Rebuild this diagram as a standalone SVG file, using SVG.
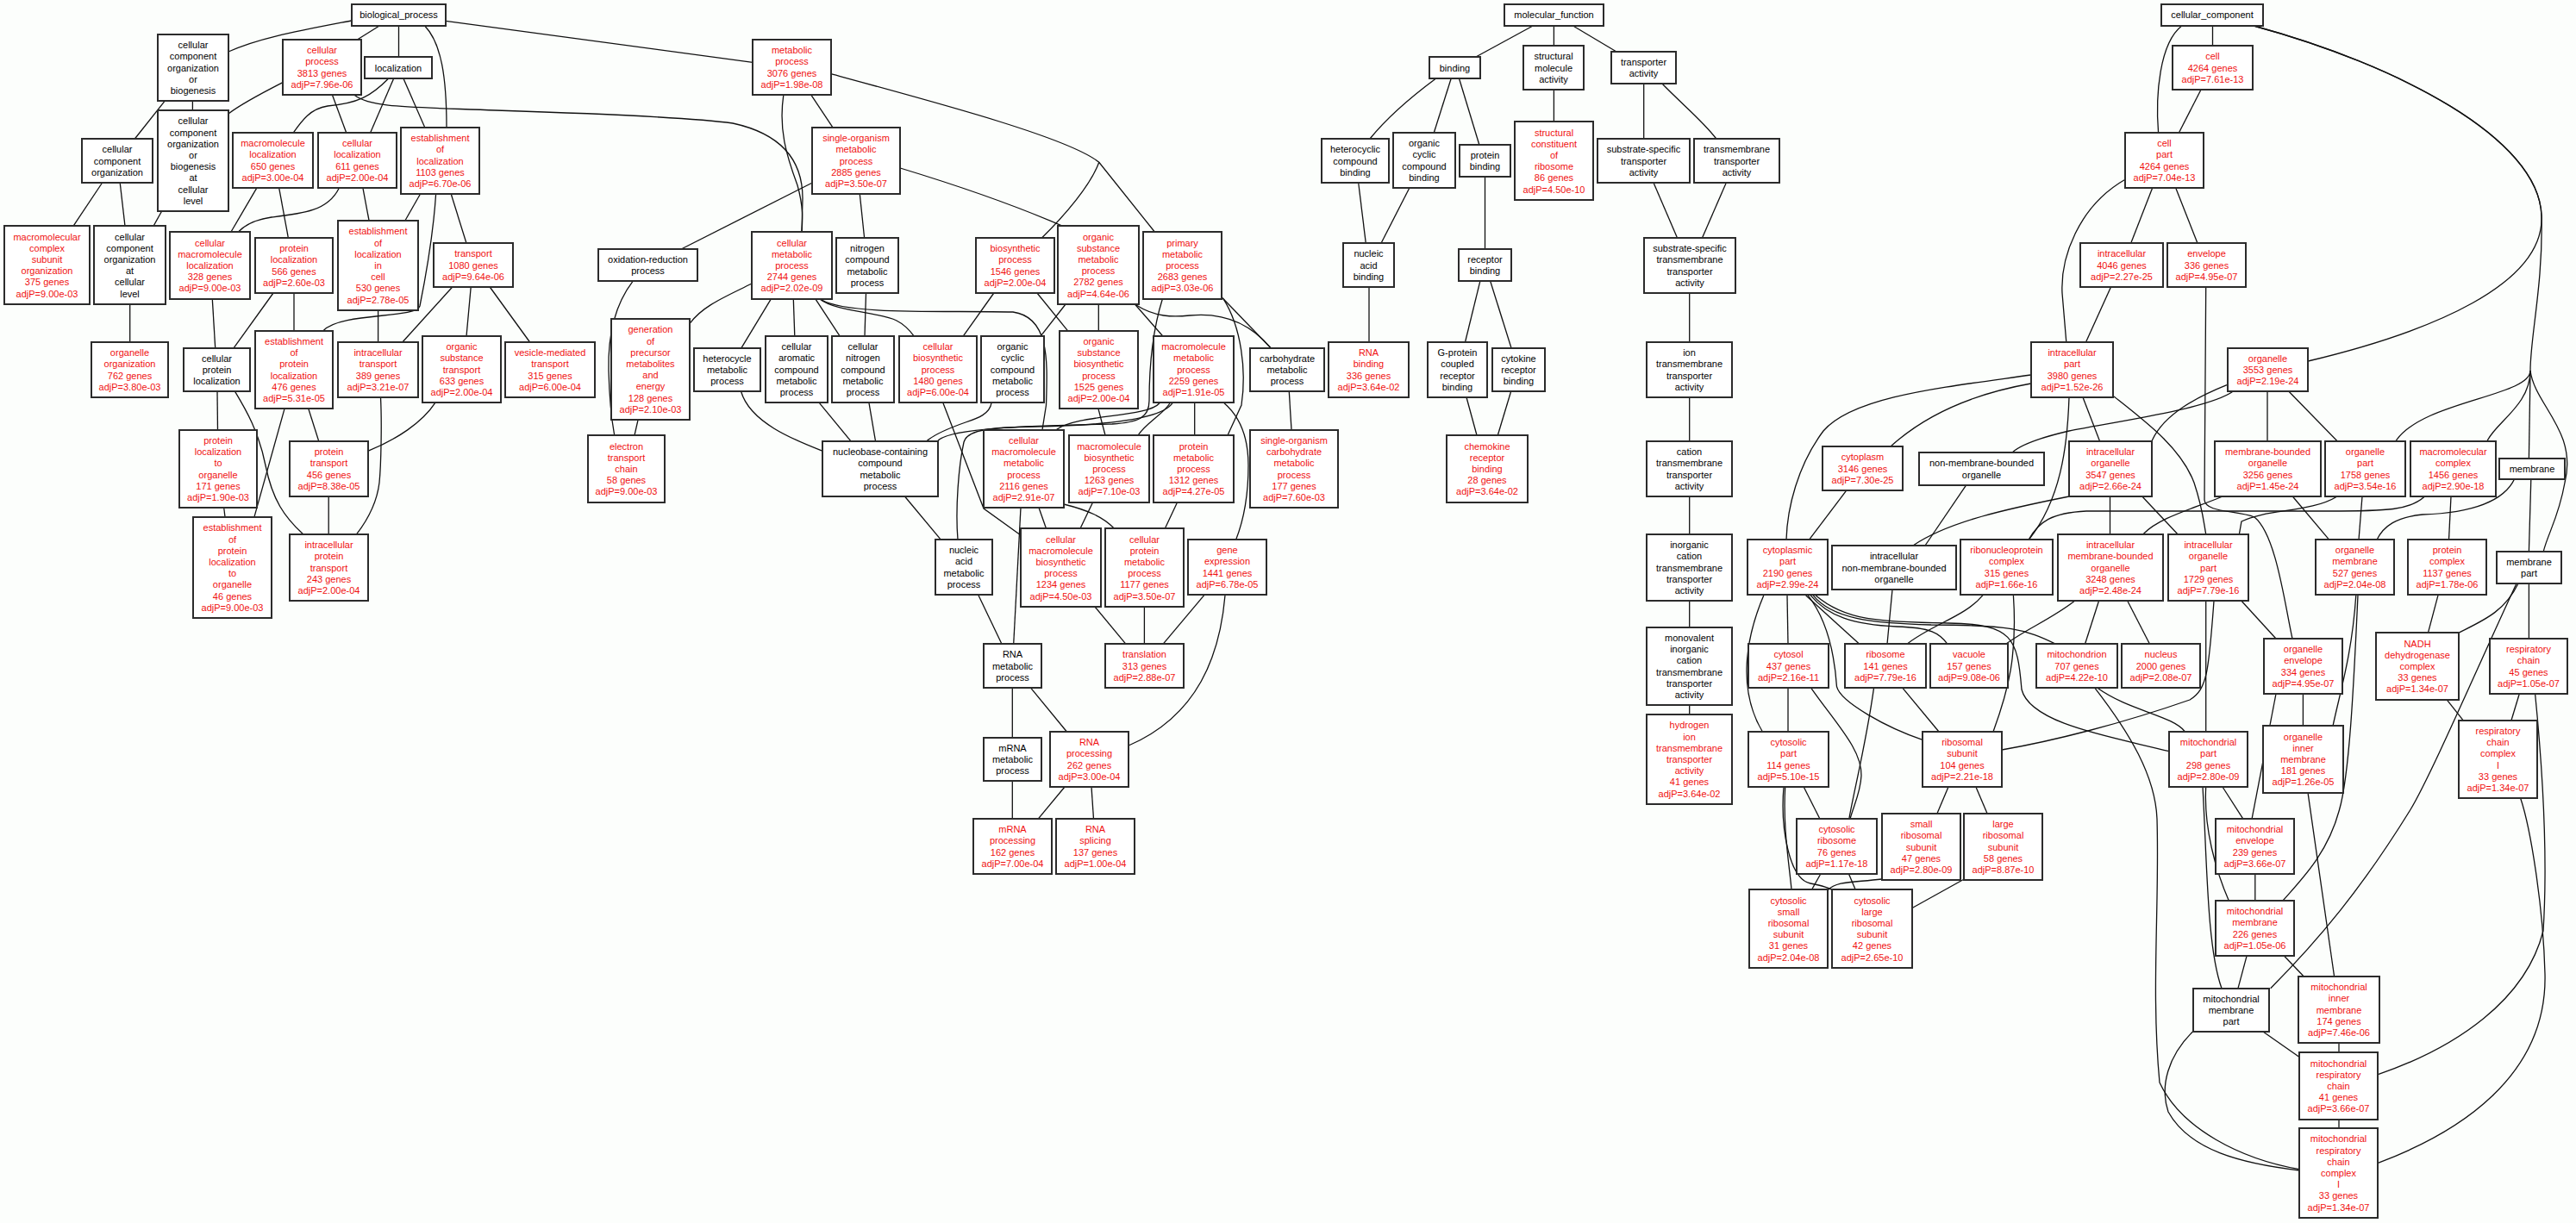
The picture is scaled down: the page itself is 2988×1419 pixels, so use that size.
<svg xmlns="http://www.w3.org/2000/svg" width="2988" height="1419" viewBox="0 0 2988 1419">
<style>
.bg{fill:#fcfefc}
.e path{fill:none;stroke:#111;stroke-width:1.3}
.n rect{fill:#fff;stroke:#2b2b2b;stroke-width:2}
.n text{font-family:"Liberation Sans",Arial,sans-serif;font-size:11px;text-anchor:middle}
.k text{fill:#000}
.r text{fill:#f01010}
</style>
<rect class="bg" x="0" y="0" width="2988" height="1419"/>
<g id="edges" class="e">
<path d="M407.5,24 C345,36 300,44 265,60"/>
<path d="M440,30 L414,46.3"/>
<path d="M462.5,29.3 L462.5,66.3"/>
<path d="M492.7,30 C512,50 518,90 518,147.7"/>
<path d="M517,24.3 L873,72.3"/>
<path d="M191,117.3 L156.4,161"/>
<path d="M223.4,117.3 L223.4,127.7"/>
<path d="M328,95.7 C300,110 278,122 265,132"/>
<path d="M385.5,110.3 L401.8,154.3"/>
<path d="M411,110.3 C430,125 470,124 575,128 C700,132 800,136 850,143 C905,155 931,185 931,230 L930,269"/>
<path d="M451,90.7 C430,112 415,120 380,123 C360,126 350,140 340,154.3"/>
<path d="M456.8,90.7 L429.5,154.3"/>
<path d="M467.8,90.7 L492.7,147.7"/>
<path d="M118.6,212 L85,262.3"/>
<path d="M139.2,212 L145,262.3"/>
<path d="M187.5,245.3 L178,262.3"/>
<path d="M297.5,218.7 L268,269"/>
<path d="M323.8,218.7 L334.3,275.7"/>
<path d="M393,218.7 C380,245 350,248 315,252 C295,255 283,262 276.5,269"/>
<path d="M421,218.7 L428,255.7"/>
<path d="M487.4,225.3 L470,255.7"/>
<path d="M523.3,225.3 L541,282.3"/>
<path d="M505.6,225.3 C502,280 492,330 487,355 C483,370 395,362 375,383.7"/>
<path d="M150.7,353 L150.7,397"/>
<path d="M246.3,346.7 L249.7,403.7"/>
<path d="M317,340 L271.2,403.7"/>
<path d="M341,340 L341,383.7"/>
<path d="M438.6,359.7 L438.6,397"/>
<path d="M524.7,333 L466.8,397"/>
<path d="M546.2,333 L541,390.3"/>
<path d="M568.2,333 L614.6,397"/>
<path d="M252,454.3 L252.5,499"/>
<path d="M272.6,454.3 C285,475 300,500 308,540 C316,580 330,600 351.6,619.7"/>
<path d="M330,474.3 L295,599.7"/>
<path d="M357.8,474.3 L369.7,511.7"/>
<path d="M441.5,461 C443,490 442,540 440,560 C437,585 425,605 413.7,619.7"/>
<path d="M504.6,467.7 C490,490 460,510 426.7,523.3"/>
<path d="M259.7,589 L261,599.7"/>
<path d="M381.2,576 L381.2,619.7"/>
<path d="M734,326.3 C712,355 705,390 706,430 C707,470 710,490 712.7,505"/>
<path d="M740,487.3 L736,505"/>
<path d="M942.3,212 L790.2,289"/>
<path d="M872,329 C840,345 815,355 800.7,374.7"/>
<path d="M908.8,110.3 C903,150 912,180 925,215 C932,240 931,255 930,269"/>
<path d="M941,110.3 L965.8,147.7"/>
<path d="M963.8,85.7 C1090,120 1240,160 1274.8,188.3 L1339.3,269"/>
<path d="M1274.8,188.3 C1265,215 1235,250 1208.7,275.7"/>
<path d="M997.3,225.3 L1002.6,275.7"/>
<path d="M1044.2,195 C1110,215 1170,235 1232.6,262.3"/>
<path d="M894.5,346.7 L860,403.7"/>
<path d="M920.3,346.7 L921.8,390.3"/>
<path d="M945.7,346.7 L974.4,390.3"/>
<path d="M1004.5,340 L1003,390.3"/>
<path d="M950.5,346.7 C970,362 1020,362 1040,372 C1050,377 1055,383 1060.5,390.3"/>
<path d="M953,348 C985,366 1100,360 1175,362 C1218,368 1215,420 1213.5,470 L1209,498.7"/>
<path d="M1152.8,340 L1117,390.3"/>
<path d="M1203,340 L1238.4,383.7"/>
<path d="M1236,353 L1206.8,390.3"/>
<path d="M1274.3,353 L1274.3,383.7"/>
<path d="M1316.4,353 L1349,390.3"/>
<path d="M1318,354 C1340,368 1360,368 1380,366 C1420,362 1450,375 1474,403.7"/>
<path d="M1417.3,345 L1474,403.7"/>
<path d="M1348.4,346.7 C1338,380 1333,420 1333,465 C1333,485 1320,490 1290,492 C1200,494 1100,496 1087.7,511.7"/>
<path d="M1419,346.7 C1440,380 1446,430 1440,470 L1424,505"/>
<path d="M1385.7,467.7 L1385.7,505"/>
<path d="M1420,467.7 C1440,485 1448,510 1448,540 C1448,580 1440,610 1433.6,626.3"/>
<path d="M1357,467.7 C1350,480 1330,490 1320,505"/>
<path d="M1345,467.7 C1330,485 1250,480 1225,498.7"/>
<path d="M1360,467.7 C1345,490 1260,494 1200,495 C1150,496 1122,498 1118,513 C1112,540 1108,590 1111,626.3"/>
<path d="M859.6,454.3 C870,490 920,510 954.3,523.3"/>
<path d="M950.5,467.7 L986.8,511.7"/>
<path d="M1008,467.7 L1015.5,511.7"/>
<path d="M1150,467.7 C1148,480 1135,485 1120,490 C1100,497 1085,503 1075,511.7"/>
<path d="M1094,467.7 L1141,590 L1184,621"/>
<path d="M1274,474.3 L1282,505"/>
<path d="M1267.6,582.7 L1253,613.3"/>
<path d="M1205,589 L1213.5,613.3"/>
<path d="M1234,585 C1262,592 1280,600 1292.5,613.3"/>
<path d="M1365.6,582.7 L1351.3,613.3"/>
<path d="M1049.5,576 L1091.5,626.3"/>
<path d="M1135,690.7 L1162,747.3"/>
<path d="M1184,589 L1175.7,747.3"/>
<path d="M1270,704 L1306,747.3"/>
<path d="M1327.4,704 L1327.4,747.3"/>
<path d="M1396.7,690.7 L1349,747.3"/>
<path d="M1195.8,798.3 L1237.4,849"/>
<path d="M1421,690.7 C1415,760 1390,830 1309.2,865"/>
<path d="M1174.3,798.3 L1174.3,855.7"/>
<path d="M1174.3,906.3 L1174.3,950.3"/>
<path d="M1235,913 L1204,950.3"/>
<path d="M1266,913 L1268.5,950.3"/>
<path d="M1495.3,454.3 L1498,498.7"/>
<path d="M1779.4,29.3 L1711.5,66.3"/>
<path d="M1802.4,29.3 L1802.4,53"/>
<path d="M1823.4,29.3 L1874.6,59.7"/>
<path d="M1666,90.7 C1640,110 1610,135 1589,161"/>
<path d="M1683.3,90.7 L1663.2,154.3"/>
<path d="M1692.4,90.7 L1715.8,167.7"/>
<path d="M1802.4,104 L1802.4,141"/>
<path d="M1906.7,97.3 L1906.7,161"/>
<path d="M1928.2,97.3 C1950,120 1975,140 1990.8,161"/>
<path d="M1575.7,212 L1584.3,282.3"/>
<path d="M1634.5,218.7 L1602,282.3"/>
<path d="M1722.5,205.3 L1722.5,289"/>
<path d="M1918,212 L1945.4,275.7"/>
<path d="M2002.3,212 L1974.6,275.7"/>
<path d="M1588,333 L1588,397"/>
<path d="M1716.8,326.3 L1699.5,397"/>
<path d="M1728.7,326.3 L1753,403.7"/>
<path d="M1959.7,340 L1959.7,397"/>
<path d="M1701,461 L1713,505"/>
<path d="M1752.6,454.3 L1737.3,505"/>
<path d="M1959.7,461 L1959.7,511.7"/>
<path d="M1959.7,576 L1959.7,619.7"/>
<path d="M1959.7,697.3 L1959.7,727.7"/>
<path d="M1959.7,818.3 L1959.7,829"/>
<path d="M2566.5,29.3 L2566.5,53"/>
<path d="M2530.7,30 C2505,50 2500,110 2503.6,154.3"/>
<path d="M2614.3,30 C2780,75 2945,160 2948,250 C2952,330 2820,385 2677.2,419"/>
<path d="M2614.3,30 C2780,75 2945,160 2948,250 C2950,330 2935,390 2935,430 C2935,460 2810,465 2779,511.7"/>
<path d="M2935,430 C2935,470 2895,490 2885,511.7"/>
<path d="M2935,430 L2933.4,531.7"/>
<path d="M2935,430 C2940,470 2990,500 2975,560 C2968,600 2955,620 2950.3,639.7"/>
<path d="M2553,104 L2527.3,154.3"/>
<path d="M2496.4,218.7 L2471.7,282.3"/>
<path d="M2524,218.7 L2549,282.3"/>
<path d="M2465,208.3 C2410,240 2390,300 2392,340 L2396.8,397"/>
<path d="M2448.5,333 L2419.5,397"/>
<path d="M2558.7,333 L2557,580 C2558,595 2595,592 2615,600 C2640,620 2650,700 2659,741"/>
<path d="M2355.7,445 C2300,455 2240,475 2192.7,518.3"/>
<path d="M2355.7,435 C2250,450 2150,460 2115,500 C2085,540 2073,590 2072,626.3"/>
<path d="M2416,461 L2435.5,511.7"/>
<path d="M2400,461 C2398,520 2390,580 2353.3,626.3"/>
<path d="M2452,460 C2490,490 2530,520 2545,560 C2555,590 2556,605 2558.7,619.7"/>
<path d="M2590,454.3 C2560,475 2450,490 2400,500 C2370,507 2345,515 2334,525"/>
<path d="M2583,446.7 C2550,460 2510,480 2496,511.7"/>
<path d="M2630,454.3 L2630,511.7"/>
<path d="M2655,454.3 L2711,511.7"/>
<path d="M2400,576 C2330,590 2260,605 2219,633"/>
<path d="M2280.8,562.7 L2233,633"/>
<path d="M2447.5,576 L2447.5,619.7"/>
<path d="M2484.8,576 L2525.9,619.7"/>
<path d="M2578,576 C2545,590 2505,600 2486,619.7"/>
<path d="M2659.3,576 L2701.8,626.3"/>
<path d="M2711,576 C2680,595 2630,590 2600,605 L2597.4,619.7"/>
<path d="M2740,576 L2736,626.3"/>
<path d="M2812.5,576 C2795,592 2770,593 2700,593 L2420,593 C2380,595 2365,605 2353,626.3"/>
<path d="M2843,576 L2840.5,626.3"/>
<path d="M2935.8,556 L2933.4,639.7"/>
<path d="M2916.5,556 C2905,580 2870,595 2810,597 C2780,600 2765,610 2757,626.3"/>
<path d="M2434.5,697.3 L2418.5,747.3"/>
<path d="M2467.8,697.3 L2493.5,747.3"/>
<path d="M2406.4,697.3 C2380,718 2350,730 2326.7,747.3"/>
<path d="M2195,684 L2189,747.3"/>
<path d="M2300,690.7 C2280,715 2240,725 2212,747.3"/>
<path d="M2335.4,690.7 C2340,760 2330,800 2312,849"/>
<path d="M2073,690.7 L2074,747.3"/>
<path d="M2045.8,690.7 C2025,740 2015,800 2044.4,849"/>
<path d="M2141.5,569.3 L2098.4,626.3"/>
<path d="M2074,798.3 L2074,849"/>
<path d="M2094.6,690.7 L2156.8,747.3"/>
<path d="M2100,690.7 C2120,715 2150,725 2200,727 C2240,728 2250,735 2259,747.3"/>
<path d="M2103,690.7 C2125,718 2170,723 2240,725 C2330,725 2350,730 2384.7,747.3"/>
<path d="M2106,690.7 C2140,720 2180,722 2260,723 C2335,724 2340,740 2345,800 C2355,840 2450,855 2516,871.7"/>
<path d="M2097,690.7 C2120,720 2128,760 2130.5,796.7 C2135,815 2190,845 2230,858.3"/>
<path d="M2207,798.3 L2249,849"/>
<path d="M2568,697.3 C2562,780 2560,800 2540,812 C2460,840 2380,860 2322,870"/>
<path d="M2558.7,697.3 L2558.7,849"/>
<path d="M2433,798.3 C2470,825 2520,830 2534.5,849"/>
<path d="M2430,798.3 C2470,850 2500,900 2502,950 C2505,1050 2495,1150 2505,1256 C2530,1310 2600,1345 2667.5,1356.7"/>
<path d="M2600,697.3 L2640,741"/>
<path d="M2578,913 L2602,950.3"/>
<path d="M2640,805 L2612,950.3"/>
<path d="M2671.4,805 L2671.4,842.3"/>
<path d="M2732.8,690.7 C2728,760 2715,800 2706,842.3"/>
<path d="M2735,690.7 C2730,800 2725,900 2713.4,940 C2700,990 2670,1020 2648,1045"/>
<path d="M2615.8,1014.7 L2615.8,1045"/>
<path d="M2558.7,913 C2556,960 2570,1010 2585.3,1045"/>
<path d="M2606,1109.3 L2596,1146.7"/>
<path d="M2555,913 C2560,1000 2560,1100 2577,1146.7"/>
<path d="M2919,677 C2880,760 2820,900 2795.6,940 C2740,1030 2690,1090 2633.7,1146.7"/>
<path d="M2921,677 C2905,710 2880,720 2851.7,734.3"/>
<path d="M2828,690.7 L2816.4,734.3"/>
<path d="M2838,811.7 L2857,835.7"/>
<path d="M2922.3,805 L2913,835.7"/>
<path d="M2933.4,677.3 L2933.4,741"/>
<path d="M2677,919.7 L2707.6,1133"/>
<path d="M2649.6,1109.3 L2672.3,1133"/>
<path d="M2713,1210.3 L2713,1221"/>
<path d="M2625,1197 L2667.5,1226.7"/>
<path d="M2713,1298.7 L2713,1309"/>
<path d="M2940.6,805 C2950,900 2955,1000 2950,1080 C2930,1160 2850,1215 2758.4,1246.7"/>
<path d="M2923.7,926.3 C2935,960 2950,1050 2952,1130 C2955,1250 2850,1315 2758.4,1349.3"/>
<path d="M2543.7,1196.7 C2515,1225 2505,1260 2515,1290 C2540,1335 2600,1350 2667.5,1358"/>
<path d="M2092.2,913 L2111,950.3"/>
<path d="M2173.5,798.3 C2165,860 2150,920 2144.8,950.3"/>
<path d="M2100.8,798.3 C2130,840 2160,870 2159,900 C2158,920 2150,935 2146,950.3"/>
<path d="M2111.4,1014.7 L2101.8,1031.7"/>
<path d="M2144.8,1014.7 L2152,1031.7"/>
<path d="M2182.6,1020 C2150,1024 2130,1022 2120,1033"/>
<path d="M2278.3,1020 L2218.5,1053.3"/>
<path d="M2260,913 L2247,943.7"/>
<path d="M2291.9,913 L2305,943.7"/>
<path d="M2070.7,913 C2068,960 2075,1000 2078,1031.7"/>
<path d="M2069,913 C2065,960 2075,1020 2100,1025 C2115,1028 2122,1030 2126,1033"/>
</g>
<g id="n1" class="n k"><rect x="408" y="5" width="109" height="25"/><text x="462.5" y="21">biological_process</text></g>
<g id="n2" class="n k"><rect x="183" y="40" width="82" height="77"/><text y="56.1"><tspan x="224">cellular</tspan><tspan x="224" dy="13.2">component</tspan><tspan x="224" dy="13.2">organization</tspan><tspan x="224" dy="13.2">or</tspan><tspan x="224" dy="13.2">biogenesis</tspan></text></g>
<g id="n3" class="n r"><rect x="328" y="46" width="91" height="64"/><text y="62.2"><tspan x="373.5">cellular</tspan><tspan x="373.5" dy="13.2">process</tspan><tspan x="373.5" dy="13.2">3813 genes</tspan><tspan x="373.5" dy="13.2">adjP=7.96e-06</tspan></text></g>
<g id="n4" class="n k"><rect x="423" y="66" width="78" height="25"/><text x="462" y="82.5">localization</text></g>
<g id="n5" class="n k"><rect x="183" y="128" width="82" height="117"/><text y="144.3"><tspan x="224">cellular</tspan><tspan x="224" dy="13.2">component</tspan><tspan x="224" dy="13.2">organization</tspan><tspan x="224" dy="13.2">or</tspan><tspan x="224" dy="13.2">biogenesis</tspan><tspan x="224" dy="13.2">at</tspan><tspan x="224" dy="13.2">cellular</tspan><tspan x="224" dy="13.2">level</tspan></text></g>
<g id="n6" class="n k"><rect x="95" y="161" width="82" height="51"/><text y="177.3"><tspan x="136">cellular</tspan><tspan x="136" dy="13.2">component</tspan><tspan x="136" dy="13.2">organization</tspan></text></g>
<g id="n7" class="n r"><rect x="270" y="154" width="93" height="64"/><text y="170.2"><tspan x="316.5">macromolecule</tspan><tspan x="316.5" dy="13.2">localization</tspan><tspan x="316.5" dy="13.2">650 genes</tspan><tspan x="316.5" dy="13.2">adjP=3.00e-04</tspan></text></g>
<g id="n8" class="n r"><rect x="369" y="154" width="91" height="64"/><text y="170.2"><tspan x="414.5">cellular</tspan><tspan x="414.5" dy="13.2">localization</tspan><tspan x="414.5" dy="13.2">611 genes</tspan><tspan x="414.5" dy="13.2">adjP=2.00e-04</tspan></text></g>
<g id="n9" class="n r"><rect x="465" y="148" width="91" height="77"/><text y="164.1"><tspan x="510.5">establishment</tspan><tspan x="510.5" dy="13.2">of</tspan><tspan x="510.5" dy="13.2">localization</tspan><tspan x="510.5" dy="13.2">1103 genes</tspan><tspan x="510.5" dy="13.2">adjP=6.70e-06</tspan></text></g>
<g id="n10" class="n r"><rect x="5" y="262" width="99" height="91"/><text y="278.5"><tspan x="54.5">macromolecular</tspan><tspan x="54.5" dy="13.2">complex</tspan><tspan x="54.5" dy="13.2">subunit</tspan><tspan x="54.5" dy="13.2">organization</tspan><tspan x="54.5" dy="13.2">375 genes</tspan><tspan x="54.5" dy="13.2">adjP=9.00e-03</tspan></text></g>
<g id="n11" class="n k"><rect x="109" y="262" width="83" height="91"/><text y="278.5"><tspan x="150.5">cellular</tspan><tspan x="150.5" dy="13.2">component</tspan><tspan x="150.5" dy="13.2">organization</tspan><tspan x="150.5" dy="13.2">at</tspan><tspan x="150.5" dy="13.2">cellular</tspan><tspan x="150.5" dy="13.2">level</tspan></text></g>
<g id="n12" class="n r"><rect x="197" y="269" width="93" height="78"/><text y="285.6"><tspan x="243.5">cellular</tspan><tspan x="243.5" dy="13.2">macromolecule</tspan><tspan x="243.5" dy="13.2">localization</tspan><tspan x="243.5" dy="13.2">328 genes</tspan><tspan x="243.5" dy="13.2">adjP=9.00e-03</tspan></text></g>
<g id="n13" class="n r"><rect x="296" y="276" width="90" height="64"/><text y="292.2"><tspan x="341">protein</tspan><tspan x="341" dy="13.2">localization</tspan><tspan x="341" dy="13.2">566 genes</tspan><tspan x="341" dy="13.2">adjP=2.60e-03</tspan></text></g>
<g id="n14" class="n r"><rect x="392" y="256" width="93" height="104"/><text y="272.4"><tspan x="438.5">establishment</tspan><tspan x="438.5" dy="13.2">of</tspan><tspan x="438.5" dy="13.2">localization</tspan><tspan x="438.5" dy="13.2">in</tspan><tspan x="438.5" dy="13.2">cell</tspan><tspan x="438.5" dy="13.2">530 genes</tspan><tspan x="438.5" dy="13.2">adjP=2.78e-05</tspan></text></g>
<g id="n15" class="n r"><rect x="503" y="282" width="92" height="51"/><text y="298.3"><tspan x="549">transport</tspan><tspan x="549" dy="13.2">1080 genes</tspan><tspan x="549" dy="13.2">adjP=9.64e-06</tspan></text></g>
<g id="n16" class="n k"><rect x="694" y="289" width="115" height="37"/><text y="304.9"><tspan x="751.5">oxidation-reduction</tspan><tspan x="751.5" dy="13.2">process</tspan></text></g>
<g id="n17" class="n r"><rect x="106" y="397" width="89" height="64"/><text y="413.2"><tspan x="150.5">organelle</tspan><tspan x="150.5" dy="13.2">organization</tspan><tspan x="150.5" dy="13.2">762 genes</tspan><tspan x="150.5" dy="13.2">adjP=3.80e-03</tspan></text></g>
<g id="n18" class="n k"><rect x="213" y="404" width="77" height="50"/><text y="419.8"><tspan x="251.5">cellular</tspan><tspan x="251.5" dy="13.2">protein</tspan><tspan x="251.5" dy="13.2">localization</tspan></text></g>
<g id="n19" class="n r"><rect x="296" y="384" width="90" height="90"/><text y="400"><tspan x="341">establishment</tspan><tspan x="341" dy="13.2">of</tspan><tspan x="341" dy="13.2">protein</tspan><tspan x="341" dy="13.2">localization</tspan><tspan x="341" dy="13.2">476 genes</tspan><tspan x="341" dy="13.2">adjP=5.31e-05</tspan></text></g>
<g id="n20" class="n r"><rect x="392" y="397" width="93" height="64"/><text y="413.2"><tspan x="438.5">intracellular</tspan><tspan x="438.5" dy="13.2">transport</tspan><tspan x="438.5" dy="13.2">389 genes</tspan><tspan x="438.5" dy="13.2">adjP=3.21e-07</tspan></text></g>
<g id="n21" class="n r"><rect x="490" y="390" width="91" height="77"/><text y="406.1"><tspan x="535.5">organic</tspan><tspan x="535.5" dy="13.2">substance</tspan><tspan x="535.5" dy="13.2">transport</tspan><tspan x="535.5" dy="13.2">633 genes</tspan><tspan x="535.5" dy="13.2">adjP=2.00e-04</tspan></text></g>
<g id="n22" class="n r"><rect x="586" y="397" width="104" height="64"/><text y="413.2"><tspan x="638">vesicle-mediated</tspan><tspan x="638" dy="13.2">transport</tspan><tspan x="638" dy="13.2">315 genes</tspan><tspan x="638" dy="13.2">adjP=6.00e-04</tspan></text></g>
<g id="n23" class="n r"><rect x="709" y="370" width="91" height="117"/><text y="386.3"><tspan x="754.5">generation</tspan><tspan x="754.5" dy="13.2">of</tspan><tspan x="754.5" dy="13.2">precursor</tspan><tspan x="754.5" dy="13.2">metabolites</tspan><tspan x="754.5" dy="13.2">and</tspan><tspan x="754.5" dy="13.2">energy</tspan><tspan x="754.5" dy="13.2">128 genes</tspan><tspan x="754.5" dy="13.2">adjP=2.10e-03</tspan></text></g>
<g id="n24" class="n r"><rect x="208" y="499" width="90" height="90"/><text y="515"><tspan x="253">protein</tspan><tspan x="253" dy="13.2">localization</tspan><tspan x="253" dy="13.2">to</tspan><tspan x="253" dy="13.2">organelle</tspan><tspan x="253" dy="13.2">171 genes</tspan><tspan x="253" dy="13.2">adjP=1.90e-03</tspan></text></g>
<g id="n25" class="n r"><rect x="224" y="600" width="91" height="117"/><text y="616.3"><tspan x="269.5">establishment</tspan><tspan x="269.5" dy="13.2">of</tspan><tspan x="269.5" dy="13.2">protein</tspan><tspan x="269.5" dy="13.2">localization</tspan><tspan x="269.5" dy="13.2">to</tspan><tspan x="269.5" dy="13.2">organelle</tspan><tspan x="269.5" dy="13.2">46 genes</tspan><tspan x="269.5" dy="13.2">adjP=9.00e-03</tspan></text></g>
<g id="n26" class="n r"><rect x="336" y="512" width="91" height="64"/><text y="528.2"><tspan x="381.5">protein</tspan><tspan x="381.5" dy="13.2">transport</tspan><tspan x="381.5" dy="13.2">456 genes</tspan><tspan x="381.5" dy="13.2">adjP=8.38e-05</tspan></text></g>
<g id="n27" class="n r"><rect x="336" y="620" width="91" height="77"/><text y="636.1"><tspan x="381.5">intracellular</tspan><tspan x="381.5" dy="13.2">protein</tspan><tspan x="381.5" dy="13.2">transport</tspan><tspan x="381.5" dy="13.2">243 genes</tspan><tspan x="381.5" dy="13.2">adjP=2.00e-04</tspan></text></g>
<g id="n28" class="n r"><rect x="682" y="505" width="89" height="78"/><text y="521.6"><tspan x="726.5">electron</tspan><tspan x="726.5" dy="13.2">transport</tspan><tspan x="726.5" dy="13.2">chain</tspan><tspan x="726.5" dy="13.2">58 genes</tspan><tspan x="726.5" dy="13.2">adjP=9.00e-03</tspan></text></g>
<g id="n29" class="n r"><rect x="873" y="46" width="91" height="64"/><text y="62.2"><tspan x="918.5">metabolic</tspan><tspan x="918.5" dy="13.2">process</tspan><tspan x="918.5" dy="13.2">3076 genes</tspan><tspan x="918.5" dy="13.2">adjP=1.98e-08</tspan></text></g>
<g id="n30" class="n r"><rect x="942" y="148" width="102" height="77"/><text y="164.1"><tspan x="993">single-organism</tspan><tspan x="993" dy="13.2">metabolic</tspan><tspan x="993" dy="13.2">process</tspan><tspan x="993" dy="13.2">2885 genes</tspan><tspan x="993" dy="13.2">adjP=3.50e-07</tspan></text></g>
<g id="n31" class="n r"><rect x="872" y="269" width="93" height="78"/><text y="285.6"><tspan x="918.5">cellular</tspan><tspan x="918.5" dy="13.2">metabolic</tspan><tspan x="918.5" dy="13.2">process</tspan><tspan x="918.5" dy="13.2">2744 genes</tspan><tspan x="918.5" dy="13.2">adjP=2.02e-09</tspan></text></g>
<g id="n32" class="n k"><rect x="970" y="276" width="72" height="64"/><text y="292.2"><tspan x="1006">nitrogen</tspan><tspan x="1006" dy="13.2">compound</tspan><tspan x="1006" dy="13.2">metabolic</tspan><tspan x="1006" dy="13.2">process</tspan></text></g>
<g id="n33" class="n r"><rect x="1132" y="276" width="91" height="64"/><text y="292.2"><tspan x="1177.5">biosynthetic</tspan><tspan x="1177.5" dy="13.2">process</tspan><tspan x="1177.5" dy="13.2">1546 genes</tspan><tspan x="1177.5" dy="13.2">adjP=2.00e-04</tspan></text></g>
<g id="n34" class="n r"><rect x="1227" y="262" width="94" height="91"/><text y="278.5"><tspan x="1274">organic</tspan><tspan x="1274" dy="13.2">substance</tspan><tspan x="1274" dy="13.2">metabolic</tspan><tspan x="1274" dy="13.2">process</tspan><tspan x="1274" dy="13.2">2782 genes</tspan><tspan x="1274" dy="13.2">adjP=4.64e-06</tspan></text></g>
<g id="n35" class="n r"><rect x="1326" y="269" width="91" height="78"/><text y="285.6"><tspan x="1371.5">primary</tspan><tspan x="1371.5" dy="13.2">metabolic</tspan><tspan x="1371.5" dy="13.2">process</tspan><tspan x="1371.5" dy="13.2">2683 genes</tspan><tspan x="1371.5" dy="13.2">adjP=3.03e-06</tspan></text></g>
<g id="n36" class="n k"><rect x="805" y="404" width="77" height="50"/><text y="419.8"><tspan x="843.5">heterocycle</tspan><tspan x="843.5" dy="13.2">metabolic</tspan><tspan x="843.5" dy="13.2">process</tspan></text></g>
<g id="n37" class="n k"><rect x="888" y="390" width="72" height="77"/><text y="406.1"><tspan x="924">cellular</tspan><tspan x="924" dy="13.2">aromatic</tspan><tspan x="924" dy="13.2">compound</tspan><tspan x="924" dy="13.2">metabolic</tspan><tspan x="924" dy="13.2">process</tspan></text></g>
<g id="n38" class="n k"><rect x="965" y="390" width="72" height="77"/><text y="406.1"><tspan x="1001">cellular</tspan><tspan x="1001" dy="13.2">nitrogen</tspan><tspan x="1001" dy="13.2">compound</tspan><tspan x="1001" dy="13.2">metabolic</tspan><tspan x="1001" dy="13.2">process</tspan></text></g>
<g id="n39" class="n r"><rect x="1043" y="390" width="90" height="77"/><text y="406.1"><tspan x="1088">cellular</tspan><tspan x="1088" dy="13.2">biosynthetic</tspan><tspan x="1088" dy="13.2">process</tspan><tspan x="1088" dy="13.2">1480 genes</tspan><tspan x="1088" dy="13.2">adjP=6.00e-04</tspan></text></g>
<g id="n40" class="n k"><rect x="1138" y="390" width="73" height="77"/><text y="406.1"><tspan x="1174.5">organic</tspan><tspan x="1174.5" dy="13.2">cyclic</tspan><tspan x="1174.5" dy="13.2">compound</tspan><tspan x="1174.5" dy="13.2">metabolic</tspan><tspan x="1174.5" dy="13.2">process</tspan></text></g>
<g id="n41" class="n r"><rect x="1229" y="384" width="91" height="90"/><text y="400"><tspan x="1274.5">organic</tspan><tspan x="1274.5" dy="13.2">substance</tspan><tspan x="1274.5" dy="13.2">biosynthetic</tspan><tspan x="1274.5" dy="13.2">process</tspan><tspan x="1274.5" dy="13.2">1525 genes</tspan><tspan x="1274.5" dy="13.2">adjP=2.00e-04</tspan></text></g>
<g id="n42" class="n r"><rect x="1338" y="390" width="93" height="77"/><text y="406.1"><tspan x="1384.5">macromolecule</tspan><tspan x="1384.5" dy="13.2">metabolic</tspan><tspan x="1384.5" dy="13.2">process</tspan><tspan x="1384.5" dy="13.2">2259 genes</tspan><tspan x="1384.5" dy="13.2">adjP=1.91e-05</tspan></text></g>
<g id="n43" class="n k"><rect x="1450" y="404" width="86" height="50"/><text y="419.8"><tspan x="1493">carbohydrate</tspan><tspan x="1493" dy="13.2">metabolic</tspan><tspan x="1493" dy="13.2">process</tspan></text></g>
<g id="n44" class="n k"><rect x="954" y="512" width="134" height="64"/><text y="528.2"><tspan x="1021">nucleobase-containing</tspan><tspan x="1021" dy="13.2">compound</tspan><tspan x="1021" dy="13.2">metabolic</tspan><tspan x="1021" dy="13.2">process</tspan></text></g>
<g id="n45" class="n r"><rect x="1141" y="499" width="93" height="90"/><text y="515"><tspan x="1187.5">cellular</tspan><tspan x="1187.5" dy="13.2">macromolecule</tspan><tspan x="1187.5" dy="13.2">metabolic</tspan><tspan x="1187.5" dy="13.2">process</tspan><tspan x="1187.5" dy="13.2">2116 genes</tspan><tspan x="1187.5" dy="13.2">adjP=2.91e-07</tspan></text></g>
<g id="n46" class="n r"><rect x="1240" y="505" width="93" height="78"/><text y="521.6"><tspan x="1286.5">macromolecule</tspan><tspan x="1286.5" dy="13.2">biosynthetic</tspan><tspan x="1286.5" dy="13.2">process</tspan><tspan x="1286.5" dy="13.2">1263 genes</tspan><tspan x="1286.5" dy="13.2">adjP=7.10e-03</tspan></text></g>
<g id="n47" class="n r"><rect x="1338" y="505" width="93" height="78"/><text y="521.6"><tspan x="1384.5">protein</tspan><tspan x="1384.5" dy="13.2">metabolic</tspan><tspan x="1384.5" dy="13.2">process</tspan><tspan x="1384.5" dy="13.2">1312 genes</tspan><tspan x="1384.5" dy="13.2">adjP=4.27e-05</tspan></text></g>
<g id="n48" class="n r"><rect x="1450" y="499" width="102" height="90"/><text y="515"><tspan x="1501">single-organism</tspan><tspan x="1501" dy="13.2">carbohydrate</tspan><tspan x="1501" dy="13.2">metabolic</tspan><tspan x="1501" dy="13.2">process</tspan><tspan x="1501" dy="13.2">177 genes</tspan><tspan x="1501" dy="13.2">adjP=7.60e-03</tspan></text></g>
<g id="n49" class="n k"><rect x="1085" y="626" width="66" height="64"/><text y="642.2"><tspan x="1118">nucleic</tspan><tspan x="1118" dy="13.2">acid</tspan><tspan x="1118" dy="13.2">metabolic</tspan><tspan x="1118" dy="13.2">process</tspan></text></g>
<g id="n50" class="n r"><rect x="1184" y="613" width="93" height="91"/><text y="629.5"><tspan x="1230.5">cellular</tspan><tspan x="1230.5" dy="13.2">macromolecule</tspan><tspan x="1230.5" dy="13.2">biosynthetic</tspan><tspan x="1230.5" dy="13.2">process</tspan><tspan x="1230.5" dy="13.2">1234 genes</tspan><tspan x="1230.5" dy="13.2">adjP=4.50e-03</tspan></text></g>
<g id="n51" class="n r"><rect x="1282" y="613" width="91" height="91"/><text y="629.5"><tspan x="1327.5">cellular</tspan><tspan x="1327.5" dy="13.2">protein</tspan><tspan x="1327.5" dy="13.2">metabolic</tspan><tspan x="1327.5" dy="13.2">process</tspan><tspan x="1327.5" dy="13.2">1177 genes</tspan><tspan x="1327.5" dy="13.2">adjP=3.50e-07</tspan></text></g>
<g id="n52" class="n r"><rect x="1378" y="626" width="91" height="64"/><text y="642.2"><tspan x="1423.5">gene</tspan><tspan x="1423.5" dy="13.2">expression</tspan><tspan x="1423.5" dy="13.2">1441 genes</tspan><tspan x="1423.5" dy="13.2">adjP=6.78e-05</tspan></text></g>
<g id="n53" class="n k"><rect x="1141" y="747" width="67" height="51"/><text y="763.3"><tspan x="1174.5">RNA</tspan><tspan x="1174.5" dy="13.2">metabolic</tspan><tspan x="1174.5" dy="13.2">process</tspan></text></g>
<g id="n54" class="n r"><rect x="1282" y="747" width="91" height="51"/><text y="763.3"><tspan x="1327.5">translation</tspan><tspan x="1327.5" dy="13.2">313 genes</tspan><tspan x="1327.5" dy="13.2">adjP=2.88e-07</tspan></text></g>
<g id="n55" class="n k"><rect x="1141" y="856" width="67" height="50"/><text y="871.8"><tspan x="1174.5">mRNA</tspan><tspan x="1174.5" dy="13.2">metabolic</tspan><tspan x="1174.5" dy="13.2">process</tspan></text></g>
<g id="n56" class="n r"><rect x="1218" y="849" width="91" height="64"/><text y="865.2"><tspan x="1263.5">RNA</tspan><tspan x="1263.5" dy="13.2">processing</tspan><tspan x="1263.5" dy="13.2">262 genes</tspan><tspan x="1263.5" dy="13.2">adjP=3.00e-04</tspan></text></g>
<g id="n57" class="n r"><rect x="1129" y="950" width="91" height="64"/><text y="966.2"><tspan x="1174.5">mRNA</tspan><tspan x="1174.5" dy="13.2">processing</tspan><tspan x="1174.5" dy="13.2">162 genes</tspan><tspan x="1174.5" dy="13.2">adjP=7.00e-04</tspan></text></g>
<g id="n58" class="n r"><rect x="1225" y="950" width="91" height="64"/><text y="966.2"><tspan x="1270.5">RNA</tspan><tspan x="1270.5" dy="13.2">splicing</tspan><tspan x="1270.5" dy="13.2">137 genes</tspan><tspan x="1270.5" dy="13.2">adjP=1.00e-04</tspan></text></g>
<g id="n59" class="n k"><rect x="1745" y="5" width="115" height="25"/><text x="1802.5" y="21">molecular_function</text></g>
<g id="n60" class="n k"><rect x="1658" y="66" width="59" height="25"/><text x="1687.5" y="82.5">binding</text></g>
<g id="n61" class="n k"><rect x="1767" y="53" width="70" height="51"/><text y="69.3"><tspan x="1802">structural</tspan><tspan x="1802" dy="13.2">molecule</tspan><tspan x="1802" dy="13.2">activity</tspan></text></g>
<g id="n62" class="n k"><rect x="1869" y="60" width="75" height="37"/><text y="75.9"><tspan x="1906.5">transporter</tspan><tspan x="1906.5" dy="13.2">activity</tspan></text></g>
<g id="n63" class="n k"><rect x="1533" y="161" width="78" height="51"/><text y="177.3"><tspan x="1572">heterocyclic</tspan><tspan x="1572" dy="13.2">compound</tspan><tspan x="1572" dy="13.2">binding</tspan></text></g>
<g id="n64" class="n k"><rect x="1616" y="154" width="72" height="64"/><text y="170.2"><tspan x="1652">organic</tspan><tspan x="1652" dy="13.2">cyclic</tspan><tspan x="1652" dy="13.2">compound</tspan><tspan x="1652" dy="13.2">binding</tspan></text></g>
<g id="n65" class="n k"><rect x="1693" y="168" width="59" height="37"/><text y="183.9"><tspan x="1722.5">protein</tspan><tspan x="1722.5" dy="13.2">binding</tspan></text></g>
<g id="n66" class="n r"><rect x="1757" y="141" width="91" height="91"/><text y="157.5"><tspan x="1802.5">structural</tspan><tspan x="1802.5" dy="13.2">constituent</tspan><tspan x="1802.5" dy="13.2">of</tspan><tspan x="1802.5" dy="13.2">ribosome</tspan><tspan x="1802.5" dy="13.2">86 genes</tspan><tspan x="1802.5" dy="13.2">adjP=4.50e-10</tspan></text></g>
<g id="n67" class="n k"><rect x="1853" y="161" width="107" height="51"/><text y="177.3"><tspan x="1906.5">substrate-specific</tspan><tspan x="1906.5" dy="13.2">transporter</tspan><tspan x="1906.5" dy="13.2">activity</tspan></text></g>
<g id="n68" class="n k"><rect x="1965" y="161" width="99" height="51"/><text y="177.3"><tspan x="2014.5">transmembrane</tspan><tspan x="2014.5" dy="13.2">transporter</tspan><tspan x="2014.5" dy="13.2">activity</tspan></text></g>
<g id="n69" class="n k"><rect x="1558" y="282" width="59" height="51"/><text y="298.3"><tspan x="1587.5">nucleic</tspan><tspan x="1587.5" dy="13.2">acid</tspan><tspan x="1587.5" dy="13.2">binding</tspan></text></g>
<g id="n70" class="n k"><rect x="1692" y="289" width="61" height="37"/><text y="304.9"><tspan x="1722.5">receptor</tspan><tspan x="1722.5" dy="13.2">binding</tspan></text></g>
<g id="n71" class="n k"><rect x="1907" y="276" width="106" height="64"/><text y="292.2"><tspan x="1960">substrate-specific</tspan><tspan x="1960" dy="13.2">transmembrane</tspan><tspan x="1960" dy="13.2">transporter</tspan><tspan x="1960" dy="13.2">activity</tspan></text></g>
<g id="n72" class="n r"><rect x="1541" y="397" width="93" height="64"/><text y="413.2"><tspan x="1587.5">RNA</tspan><tspan x="1587.5" dy="13.2">binding</tspan><tspan x="1587.5" dy="13.2">336 genes</tspan><tspan x="1587.5" dy="13.2">adjP=3.64e-02</tspan></text></g>
<g id="n73" class="n k"><rect x="1656" y="397" width="69" height="64"/><text y="413.2"><tspan x="1690.5">G-protein</tspan><tspan x="1690.5" dy="13.2">coupled</tspan><tspan x="1690.5" dy="13.2">receptor</tspan><tspan x="1690.5" dy="13.2">binding</tspan></text></g>
<g id="n74" class="n k"><rect x="1731" y="404" width="61" height="50"/><text y="419.8"><tspan x="1761.5">cytokine</tspan><tspan x="1761.5" dy="13.2">receptor</tspan><tspan x="1761.5" dy="13.2">binding</tspan></text></g>
<g id="n75" class="n k"><rect x="1910" y="397" width="99" height="64"/><text y="413.2"><tspan x="1959.5">ion</tspan><tspan x="1959.5" dy="13.2">transmembrane</tspan><tspan x="1959.5" dy="13.2">transporter</tspan><tspan x="1959.5" dy="13.2">activity</tspan></text></g>
<g id="n76" class="n r"><rect x="1678" y="505" width="94" height="78"/><text y="521.6"><tspan x="1725">chemokine</tspan><tspan x="1725" dy="13.2">receptor</tspan><tspan x="1725" dy="13.2">binding</tspan><tspan x="1725" dy="13.2">28 genes</tspan><tspan x="1725" dy="13.2">adjP=3.64e-02</tspan></text></g>
<g id="n77" class="n k"><rect x="1910" y="512" width="99" height="64"/><text y="528.2"><tspan x="1959.5">cation</tspan><tspan x="1959.5" dy="13.2">transmembrane</tspan><tspan x="1959.5" dy="13.2">transporter</tspan><tspan x="1959.5" dy="13.2">activity</tspan></text></g>
<g id="n78" class="n k"><rect x="1910" y="620" width="99" height="77"/><text y="636.1"><tspan x="1959.5">inorganic</tspan><tspan x="1959.5" dy="13.2">cation</tspan><tspan x="1959.5" dy="13.2">transmembrane</tspan><tspan x="1959.5" dy="13.2">transporter</tspan><tspan x="1959.5" dy="13.2">activity</tspan></text></g>
<g id="n79" class="n k"><rect x="1910" y="728" width="99" height="90"/><text y="744"><tspan x="1959.5">monovalent</tspan><tspan x="1959.5" dy="13.2">inorganic</tspan><tspan x="1959.5" dy="13.2">cation</tspan><tspan x="1959.5" dy="13.2">transmembrane</tspan><tspan x="1959.5" dy="13.2">transporter</tspan><tspan x="1959.5" dy="13.2">activity</tspan></text></g>
<g id="n80" class="n r"><rect x="1910" y="829" width="99" height="104"/><text y="845.4"><tspan x="1959.5">hydrogen</tspan><tspan x="1959.5" dy="13.2">ion</tspan><tspan x="1959.5" dy="13.2">transmembrane</tspan><tspan x="1959.5" dy="13.2">transporter</tspan><tspan x="1959.5" dy="13.2">activity</tspan><tspan x="1959.5" dy="13.2">41 genes</tspan><tspan x="1959.5" dy="13.2">adjP=3.64e-02</tspan></text></g>
<g id="n81" class="n k"><rect x="2507" y="5" width="118" height="25"/><text x="2566" y="21">cellular_component</text></g>
<g id="n82" class="n r"><rect x="2520" y="53" width="93" height="51"/><text y="69.3"><tspan x="2566.5">cell</tspan><tspan x="2566.5" dy="13.2">4264 genes</tspan><tspan x="2566.5" dy="13.2">adjP=7.61e-13</tspan></text></g>
<g id="n83" class="n r"><rect x="2465" y="154" width="91" height="64"/><text y="170.2"><tspan x="2510.5">cell</tspan><tspan x="2510.5" dy="13.2">part</tspan><tspan x="2510.5" dy="13.2">4264 genes</tspan><tspan x="2510.5" dy="13.2">adjP=7.04e-13</tspan></text></g>
<g id="n84" class="n r"><rect x="2413" y="282" width="96" height="51"/><text y="298.3"><tspan x="2461">intracellular</tspan><tspan x="2461" dy="13.2">4046 genes</tspan><tspan x="2461" dy="13.2">adjP=2.27e-25</tspan></text></g>
<g id="n85" class="n r"><rect x="2514" y="282" width="91" height="51"/><text y="298.3"><tspan x="2559.5">envelope</tspan><tspan x="2559.5" dy="13.2">336 genes</tspan><tspan x="2559.5" dy="13.2">adjP=4.95e-07</tspan></text></g>
<g id="n86" class="n r"><rect x="2356" y="397" width="95" height="64"/><text y="413.2"><tspan x="2403.5">intracellular</tspan><tspan x="2403.5" dy="13.2">part</tspan><tspan x="2403.5" dy="13.2">3980 genes</tspan><tspan x="2403.5" dy="13.2">adjP=1.52e-26</tspan></text></g>
<g id="n87" class="n r"><rect x="2584" y="404" width="93" height="50"/><text y="419.8"><tspan x="2630.5">organelle</tspan><tspan x="2630.5" dy="13.2">3553 genes</tspan><tspan x="2630.5" dy="13.2">adjP=2.19e-24</tspan></text></g>
<g id="n88" class="n r"><rect x="2114" y="518" width="93" height="51"/><text y="534.3"><tspan x="2160.5">cytoplasm</tspan><tspan x="2160.5" dy="13.2">3146 genes</tspan><tspan x="2160.5" dy="13.2">adjP=7.30e-25</tspan></text></g>
<g id="n89" class="n k"><rect x="2226" y="525" width="145" height="38"/><text y="541.4"><tspan x="2298.5">non-membrane-bounded</tspan><tspan x="2298.5" dy="13.2">organelle</tspan></text></g>
<g id="n90" class="n r"><rect x="2400" y="512" width="96" height="64"/><text y="528.2"><tspan x="2448">intracellular</tspan><tspan x="2448" dy="13.2">organelle</tspan><tspan x="2448" dy="13.2">3547 genes</tspan><tspan x="2448" dy="13.2">adjP=2.66e-24</tspan></text></g>
<g id="n91" class="n r"><rect x="2569" y="512" width="123" height="64"/><text y="528.2"><tspan x="2630.5">membrane-bounded</tspan><tspan x="2630.5" dy="13.2">organelle</tspan><tspan x="2630.5" dy="13.2">3256 genes</tspan><tspan x="2630.5" dy="13.2">adjP=1.45e-24</tspan></text></g>
<g id="n92" class="n r"><rect x="2697" y="512" width="93" height="64"/><text y="528.2"><tspan x="2743.5">organelle</tspan><tspan x="2743.5" dy="13.2">part</tspan><tspan x="2743.5" dy="13.2">1758 genes</tspan><tspan x="2743.5" dy="13.2">adjP=3.54e-16</tspan></text></g>
<g id="n93" class="n r"><rect x="2796" y="512" width="99" height="64"/><text y="528.2"><tspan x="2845.5">macromolecular</tspan><tspan x="2845.5" dy="13.2">complex</tspan><tspan x="2845.5" dy="13.2">1456 genes</tspan><tspan x="2845.5" dy="13.2">adjP=2.90e-18</tspan></text></g>
<g id="n94" class="n k"><rect x="2899" y="532" width="76" height="24"/><text x="2937" y="548">membrane</text></g>
<g id="n95" class="n r"><rect x="2027" y="626" width="93" height="64"/><text y="642.2"><tspan x="2073.5">cytoplasmic</tspan><tspan x="2073.5" dy="13.2">part</tspan><tspan x="2073.5" dy="13.2">2190 genes</tspan><tspan x="2073.5" dy="13.2">adjP=2.99e-24</tspan></text></g>
<g id="n96" class="n k"><rect x="2125" y="633" width="144" height="51"/><text y="649.3"><tspan x="2197">intracellular</tspan><tspan x="2197" dy="13.2">non-membrane-bounded</tspan><tspan x="2197" dy="13.2">organelle</tspan></text></g>
<g id="n97" class="n r"><rect x="2274" y="626" width="107" height="64"/><text y="642.2"><tspan x="2327.5">ribonucleoprotein</tspan><tspan x="2327.5" dy="13.2">complex</tspan><tspan x="2327.5" dy="13.2">315 genes</tspan><tspan x="2327.5" dy="13.2">adjP=1.66e-16</tspan></text></g>
<g id="n98" class="n r"><rect x="2387" y="620" width="122" height="77"/><text y="636.1"><tspan x="2448">intracellular</tspan><tspan x="2448" dy="13.2">membrane-bounded</tspan><tspan x="2448" dy="13.2">organelle</tspan><tspan x="2448" dy="13.2">3248 genes</tspan><tspan x="2448" dy="13.2">adjP=2.48e-24</tspan></text></g>
<g id="n99" class="n r"><rect x="2515" y="620" width="93" height="77"/><text y="636.1"><tspan x="2561.5">intracellular</tspan><tspan x="2561.5" dy="13.2">organelle</tspan><tspan x="2561.5" dy="13.2">part</tspan><tspan x="2561.5" dy="13.2">1729 genes</tspan><tspan x="2561.5" dy="13.2">adjP=7.79e-16</tspan></text></g>
<g id="n100" class="n r"><rect x="2686" y="626" width="91" height="64"/><text y="642.2"><tspan x="2731.5">organelle</tspan><tspan x="2731.5" dy="13.2">membrane</tspan><tspan x="2731.5" dy="13.2">527 genes</tspan><tspan x="2731.5" dy="13.2">adjP=2.04e-08</tspan></text></g>
<g id="n101" class="n r"><rect x="2793" y="626" width="91" height="64"/><text y="642.2"><tspan x="2838.5">protein</tspan><tspan x="2838.5" dy="13.2">complex</tspan><tspan x="2838.5" dy="13.2">1137 genes</tspan><tspan x="2838.5" dy="13.2">adjP=1.78e-06</tspan></text></g>
<g id="n102" class="n k"><rect x="2896" y="640" width="75" height="37"/><text y="655.9"><tspan x="2933.5">membrane</tspan><tspan x="2933.5" dy="13.2">part</tspan></text></g>
<g id="n103" class="n r"><rect x="2028" y="747" width="93" height="51"/><text y="763.3"><tspan x="2074.5">cytosol</tspan><tspan x="2074.5" dy="13.2">437 genes</tspan><tspan x="2074.5" dy="13.2">adjP=2.16e-11</tspan></text></g>
<g id="n104" class="n r"><rect x="2140" y="747" width="94" height="51"/><text y="763.3"><tspan x="2187">ribosome</tspan><tspan x="2187" dy="13.2">141 genes</tspan><tspan x="2187" dy="13.2">adjP=7.79e-16</tspan></text></g>
<g id="n105" class="n r"><rect x="2239" y="747" width="90" height="51"/><text y="763.3"><tspan x="2284">vacuole</tspan><tspan x="2284" dy="13.2">157 genes</tspan><tspan x="2284" dy="13.2">adjP=9.08e-06</tspan></text></g>
<g id="n106" class="n r"><rect x="2362" y="747" width="94" height="51"/><text y="763.3"><tspan x="2409">mitochondrion</tspan><tspan x="2409" dy="13.2">707 genes</tspan><tspan x="2409" dy="13.2">adjP=4.22e-10</tspan></text></g>
<g id="n107" class="n r"><rect x="2461" y="747" width="91" height="51"/><text y="763.3"><tspan x="2506.5">nucleus</tspan><tspan x="2506.5" dy="13.2">2000 genes</tspan><tspan x="2506.5" dy="13.2">adjP=2.08e-07</tspan></text></g>
<g id="n108" class="n r"><rect x="2626" y="741" width="91" height="64"/><text y="757.2"><tspan x="2671.5">organelle</tspan><tspan x="2671.5" dy="13.2">envelope</tspan><tspan x="2671.5" dy="13.2">334 genes</tspan><tspan x="2671.5" dy="13.2">adjP=4.95e-07</tspan></text></g>
<g id="n109" class="n r"><rect x="2756" y="734" width="96" height="78"/><text y="750.6"><tspan x="2804">NADH</tspan><tspan x="2804" dy="13.2">dehydrogenase</tspan><tspan x="2804" dy="13.2">complex</tspan><tspan x="2804" dy="13.2">33 genes</tspan><tspan x="2804" dy="13.2">adjP=1.34e-07</tspan></text></g>
<g id="n110" class="n r"><rect x="2888" y="741" width="90" height="64"/><text y="757.2"><tspan x="2933">respiratory</tspan><tspan x="2933" dy="13.2">chain</tspan><tspan x="2933" dy="13.2">45 genes</tspan><tspan x="2933" dy="13.2">adjP=1.05e-07</tspan></text></g>
<g id="n111" class="n r"><rect x="2028" y="849" width="93" height="64"/><text y="865.2"><tspan x="2074.5">cytosolic</tspan><tspan x="2074.5" dy="13.2">part</tspan><tspan x="2074.5" dy="13.2">114 genes</tspan><tspan x="2074.5" dy="13.2">adjP=5.10e-15</tspan></text></g>
<g id="n112" class="n r"><rect x="2230" y="849" width="92" height="64"/><text y="865.2"><tspan x="2276">ribosomal</tspan><tspan x="2276" dy="13.2">subunit</tspan><tspan x="2276" dy="13.2">104 genes</tspan><tspan x="2276" dy="13.2">adjP=2.21e-18</tspan></text></g>
<g id="n113" class="n r"><rect x="2516" y="849" width="91" height="64"/><text y="865.2"><tspan x="2561.5">mitochondrial</tspan><tspan x="2561.5" dy="13.2">part</tspan><tspan x="2561.5" dy="13.2">298 genes</tspan><tspan x="2561.5" dy="13.2">adjP=2.80e-09</tspan></text></g>
<g id="n114" class="n r"><rect x="2625" y="842" width="93" height="78"/><text y="858.6"><tspan x="2671.5">organelle</tspan><tspan x="2671.5" dy="13.2">inner</tspan><tspan x="2671.5" dy="13.2">membrane</tspan><tspan x="2671.5" dy="13.2">181 genes</tspan><tspan x="2671.5" dy="13.2">adjP=1.26e-05</tspan></text></g>
<g id="n115" class="n r"><rect x="2852" y="836" width="91" height="90"/><text y="852"><tspan x="2897.5">respiratory</tspan><tspan x="2897.5" dy="13.2">chain</tspan><tspan x="2897.5" dy="13.2">complex</tspan><tspan x="2897.5" dy="13.2">I</tspan><tspan x="2897.5" dy="13.2">33 genes</tspan><tspan x="2897.5" dy="13.2">adjP=1.34e-07</tspan></text></g>
<g id="n116" class="n r"><rect x="2084" y="950" width="93" height="64"/><text y="966.2"><tspan x="2130.5">cytosolic</tspan><tspan x="2130.5" dy="13.2">ribosome</tspan><tspan x="2130.5" dy="13.2">76 genes</tspan><tspan x="2130.5" dy="13.2">adjP=1.17e-18</tspan></text></g>
<g id="n117" class="n r"><rect x="2183" y="944" width="91" height="77"/><text y="960.1"><tspan x="2228.5">small</tspan><tspan x="2228.5" dy="13.2">ribosomal</tspan><tspan x="2228.5" dy="13.2">subunit</tspan><tspan x="2228.5" dy="13.2">47 genes</tspan><tspan x="2228.5" dy="13.2">adjP=2.80e-09</tspan></text></g>
<g id="n118" class="n r"><rect x="2278" y="944" width="91" height="77"/><text y="960.1"><tspan x="2323.5">large</tspan><tspan x="2323.5" dy="13.2">ribosomal</tspan><tspan x="2323.5" dy="13.2">subunit</tspan><tspan x="2323.5" dy="13.2">58 genes</tspan><tspan x="2323.5" dy="13.2">adjP=8.87e-10</tspan></text></g>
<g id="n119" class="n r"><rect x="2570" y="950" width="91" height="64"/><text y="966.2"><tspan x="2615.5">mitochondrial</tspan><tspan x="2615.5" dy="13.2">envelope</tspan><tspan x="2615.5" dy="13.2">239 genes</tspan><tspan x="2615.5" dy="13.2">adjP=3.66e-07</tspan></text></g>
<g id="n120" class="n r"><rect x="2029" y="1032" width="91" height="91"/><text y="1048.5"><tspan x="2074.5">cytosolic</tspan><tspan x="2074.5" dy="13.2">small</tspan><tspan x="2074.5" dy="13.2">ribosomal</tspan><tspan x="2074.5" dy="13.2">subunit</tspan><tspan x="2074.5" dy="13.2">31 genes</tspan><tspan x="2074.5" dy="13.2">adjP=2.04e-08</tspan></text></g>
<g id="n121" class="n r"><rect x="2125" y="1032" width="93" height="91"/><text y="1048.5"><tspan x="2171.5">cytosolic</tspan><tspan x="2171.5" dy="13.2">large</tspan><tspan x="2171.5" dy="13.2">ribosomal</tspan><tspan x="2171.5" dy="13.2">subunit</tspan><tspan x="2171.5" dy="13.2">42 genes</tspan><tspan x="2171.5" dy="13.2">adjP=2.65e-10</tspan></text></g>
<g id="n122" class="n r"><rect x="2570" y="1045" width="91" height="64"/><text y="1061.2"><tspan x="2615.5">mitochondrial</tspan><tspan x="2615.5" dy="13.2">membrane</tspan><tspan x="2615.5" dy="13.2">226 genes</tspan><tspan x="2615.5" dy="13.2">adjP=1.05e-06</tspan></text></g>
<g id="n123" class="n k"><rect x="2544" y="1147" width="88" height="50"/><text y="1162.8"><tspan x="2588">mitochondrial</tspan><tspan x="2588" dy="13.2">membrane</tspan><tspan x="2588" dy="13.2">part</tspan></text></g>
<g id="n124" class="n r"><rect x="2666" y="1133" width="94" height="77"/><text y="1149.1"><tspan x="2713">mitochondrial</tspan><tspan x="2713" dy="13.2">inner</tspan><tspan x="2713" dy="13.2">membrane</tspan><tspan x="2713" dy="13.2">174 genes</tspan><tspan x="2713" dy="13.2">adjP=7.46e-06</tspan></text></g>
<g id="n125" class="n r"><rect x="2667" y="1221" width="91" height="78"/><text y="1237.6"><tspan x="2712.5">mitochondrial</tspan><tspan x="2712.5" dy="13.2">respiratory</tspan><tspan x="2712.5" dy="13.2">chain</tspan><tspan x="2712.5" dy="13.2">41 genes</tspan><tspan x="2712.5" dy="13.2">adjP=3.66e-07</tspan></text></g>
<g id="n126" class="n r"><rect x="2667" y="1309" width="91" height="104"/><text y="1325.4"><tspan x="2712.5">mitochondrial</tspan><tspan x="2712.5" dy="13.2">respiratory</tspan><tspan x="2712.5" dy="13.2">chain</tspan><tspan x="2712.5" dy="13.2">complex</tspan><tspan x="2712.5" dy="13.2">I</tspan><tspan x="2712.5" dy="13.2">33 genes</tspan><tspan x="2712.5" dy="13.2">adjP=1.34e-07</tspan></text></g>
</svg>
